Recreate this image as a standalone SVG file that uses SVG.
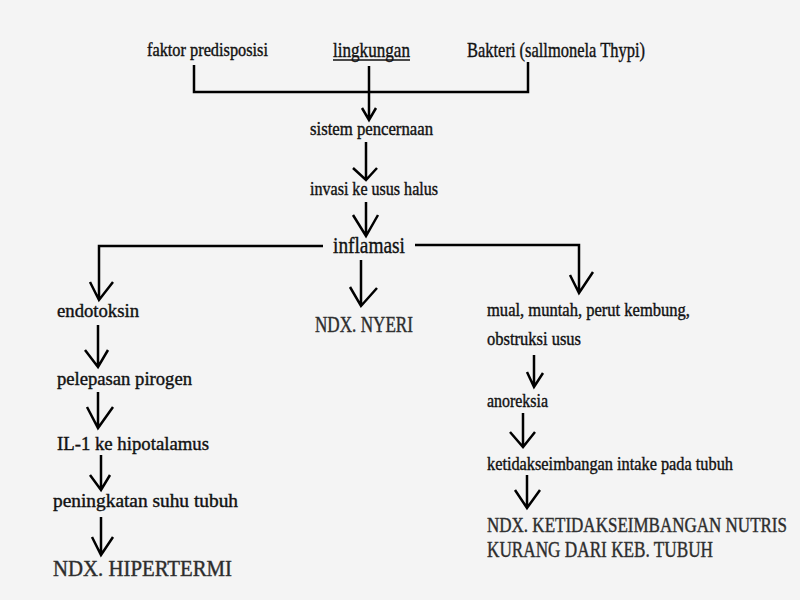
<svg xmlns="http://www.w3.org/2000/svg" width="800" height="600" viewBox="0 0 800 600">
<style>
text{font-family:"Liberation Serif","Times New Roman",serif;fill:#111;stroke:#111;stroke-width:0.4;}
.s{font-size:19px;}
.m{font-size:22px;}
.l{font-size:24px;}
.ndx{font-size:23px;fill:#2a2a2a;stroke:#3a3a3a;stroke-width:0.45;}
.ndx2{font-size:21px;fill:#2a2a2a;stroke:#3a3a3a;stroke-width:0.45;}
.ln{fill:none;stroke:#000;stroke-width:2.5;stroke-linecap:butt;stroke-linejoin:miter;}
</style>
<rect width="800" height="600" fill="#f4f4f4"/>
<g id="connectors">
<path class="ln" d="M194,65 V92 H528 V62"/>
<path class="ln" d="M369,66 V120 M362,108 L369,120 L376,108"/>
<path class="ln" d="M366,142 V180 M353,168 L366,180 L377,168"/>
<path class="ln" d="M366,202 V236 M353,215 L366,236 L378,215"/>
<path class="ln" d="M323,246 H99 V300 M90,282 L99,300 L113,282"/>
<path class="ln" d="M361,260 V306 M350,287 L361,306 L377,288"/>
<path class="ln" d="M415,245 H579 V293 M570,275 L579,293 L593,272"/>
<path class="ln" d="M98,325 V367 M85,350 L98,367 L108,350"/>
<path class="ln" d="M98,392 V428 M87,407 L98,428 L113,407"/>
<path class="ln" d="M101,455 V490 M90,475 L101,490 L110,475"/>
<path class="ln" d="M101,517 V555 M92,537 L101,555 L113,537"/>
<path class="ln" d="M534,355 V387 M527,372 L534,387 L543,373"/>
<path class="ln" d="M523,413 V447 M510,432 L523,447 L535,432"/>
<path class="ln" d="M527,475 V508 M515,490 L527,508 L540,490"/>
</g>
<g id="faktor"><text class="s" x="147" y="56" textLength="121" lengthAdjust="spacingAndGlyphs">faktor predisposisi</text></g>
<g id="lingkungan"><text class="m" x="333" y="57" textLength="77" lengthAdjust="spacingAndGlyphs">lingkungan</text><line x1="333" y1="60" x2="410" y2="60" stroke="#111" stroke-width="1.3"/></g>
<g id="bakteri"><text class="m" x="467" y="57" textLength="178" lengthAdjust="spacingAndGlyphs">Bakteri (sallmonela Thypi)</text></g>
<g id="sistem"><text class="s" x="310" y="135" textLength="123" lengthAdjust="spacingAndGlyphs">sistem pencernaan</text></g>
<g id="invasi"><text class="s" x="310" y="195" textLength="128" lengthAdjust="spacingAndGlyphs">invasi ke usus halus</text></g>
<g id="inflamasi"><text class="l" x="333" y="253" textLength="72" lengthAdjust="spacingAndGlyphs">inflamasi</text></g>
<g id="endotoksin"><text class="s" x="57" y="317" textLength="82" lengthAdjust="spacingAndGlyphs">endotoksin</text></g>
<g id="pirogen"><text class="s" x="57" y="385" textLength="135" lengthAdjust="spacingAndGlyphs">pelepasan pirogen</text></g>
<g id="il1"><text class="s" x="57" y="450" textLength="152" lengthAdjust="spacingAndGlyphs">IL-1 ke hipotalamus</text></g>
<g id="suhu"><text class="s" x="53" y="507" textLength="185" lengthAdjust="spacingAndGlyphs">peningkatan suhu tubuh</text></g>
<g id="hipertermi"><text class="ndx" x="53" y="576" textLength="179" lengthAdjust="spacingAndGlyphs">NDX. HIPERTERMI</text></g>
<g id="nyeri"><text class="ndx" x="315" y="332" textLength="98" lengthAdjust="spacingAndGlyphs">NDX. NYERI</text></g>
<g id="mual"><text class="s" x="487" y="316" textLength="203" lengthAdjust="spacingAndGlyphs">mual, muntah, perut kembung,</text><text class="s" x="487" y="345" textLength="94" lengthAdjust="spacingAndGlyphs">obstruksi usus</text></g>
<g id="anoreksia"><text class="s" x="487" y="407" textLength="61" lengthAdjust="spacingAndGlyphs">anoreksia</text></g>
<g id="ketidak"><text class="s" x="487" y="470" textLength="246" lengthAdjust="spacingAndGlyphs">ketidakseimbangan intake pada tubuh</text></g>
<g id="nutrisi"><text class="ndx2" x="487" y="532" textLength="300" lengthAdjust="spacingAndGlyphs">NDX. KETIDAKSEIMBANGAN NUTRIS</text><text class="ndx" x="487" y="557" textLength="226" lengthAdjust="spacingAndGlyphs">KURANG DARI KEB. TUBUH</text></g>
</svg>
